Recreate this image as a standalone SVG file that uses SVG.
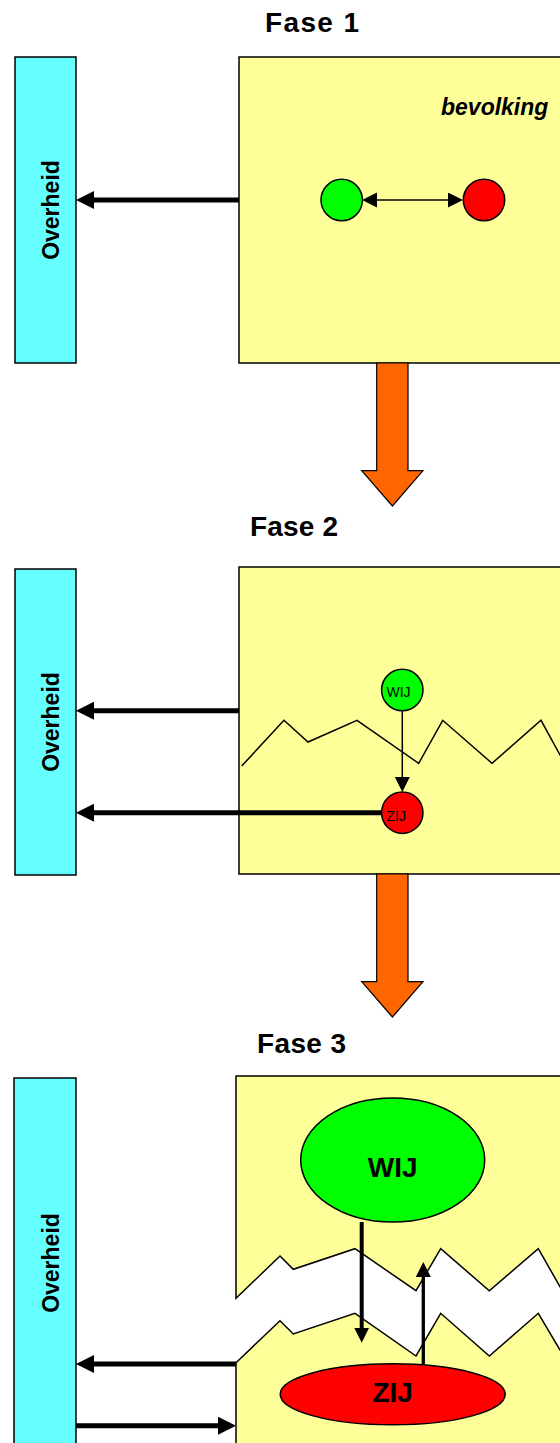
<svg xmlns="http://www.w3.org/2000/svg" width="560" height="1443" viewBox="0 0 560 1443">
  <style>
    .title { font-family: "Liberation Sans", Arial, sans-serif; font-weight: bold; font-size: 28px; fill: #000; }
    .gov { fill: #66FFFF; stroke: #000; stroke-width: 1.5; }
    .govtxt { font-family: "Liberation Sans", Arial, sans-serif; font-weight: bold; font-size: 23px; fill: #000; }
    .pop { fill: #FFFF99; stroke: #000; stroke-width: 1.5; }
    .green { fill: #00FF00; stroke: #000; stroke-width: 1.5; }
    .red { fill: #FF0000; stroke: #000; stroke-width: 1.5; }
    .flow { fill: #FF6600; stroke: #000; stroke-width: 1.2; }
    .thick { stroke: #000; stroke-width: 5; fill: none; marker-end: url(#headLg); }
    .thin { stroke: #000; stroke-width: 1.5; fill: none; }
    .zig { stroke: #000; stroke-width: 1.5; fill: none; stroke-linejoin: miter; }
    .lbl { font-family: "Liberation Sans", Arial, sans-serif; font-size: 14px; fill: #000; }
    .big { font-family: "Liberation Sans", Arial, sans-serif; font-weight: bold; font-size: 28px; fill: #000; }
  </style>
  <defs>
    <marker id="headLg" markerUnits="userSpaceOnUse" markerWidth="18" markerHeight="18" refX="6" refY="9" orient="auto">
      <path d="M0,0 L18,9 L0,18 z" fill="#000"/>
    </marker>
    <marker id="headSm" markerUnits="userSpaceOnUse" markerWidth="16" markerHeight="16" refX="5" refY="7.5" orient="auto-start-reverse">
      <path d="M0,0 L15,7.5 L0,15 z" fill="#000"/>
    </marker>
  </defs>

  <!-- phase titles -->
  <text class="title" x="265" y="32" textLength="94" lengthAdjust="spacing">Fase 1</text>
  <text class="title" x="250" y="536" textLength="88" lengthAdjust="spacing">Fase 2</text>
  <text class="title" x="257" y="1053" textLength="89" lengthAdjust="spacing">Fase 3</text>

  <!-- ===== Fase 1 ===== -->
  <g id="overheid-1">
    <rect class="gov" x="15" y="57" width="61" height="306"/>
    <text class="govtxt" transform="translate(59,210) rotate(-90)" text-anchor="middle">Overheid</text>
  </g>
  <g id="bevolking-1">
    <rect class="pop" x="239" y="57" width="340" height="306"/>
    <text x="441" y="115" font-family="Liberation Sans, Arial, sans-serif" font-weight="bold" font-style="italic" font-size="23">bevolking</text>
  </g>
  <g id="groep-a-1"><circle class="green" cx="341.7" cy="200" r="20.7"/></g>
  <g id="groep-b-1"><circle class="red" cx="484" cy="200" r="20.7"/></g>
  <g id="flow-1"><polygon class="flow" points="376.7,363 408,363 408,470.7 423,470.7 392.4,506 361.7,470.7 376.7,470.7"/></g>

  <!-- ===== Fase 2 ===== -->
  <g id="overheid-2">
    <rect class="gov" x="15" y="569" width="61" height="306"/>
    <text class="govtxt" transform="translate(59,722) rotate(-90)" text-anchor="middle">Overheid</text>
  </g>
  <g id="bevolking-2">
    <rect class="pop" x="239" y="567" width="340" height="307"/>
    <polyline class="zig" points="241.7,766 284,720.3 308,742 357,720.3 418.7,763.3 442.7,720.3 492,763.3 541,720.3 560,755 572,777"/>
  </g>
  <g id="wij-2">
    <circle class="green" cx="402.3" cy="690" r="20.7"/>
    <text class="lbl" x="386.5" y="697">WIJ</text>
  </g>
  <g id="zij-2">
    <circle class="red" cx="402.3" cy="812.7" r="20.7"/>
    <text class="lbl" x="386.5" y="821">ZIJ</text>
  </g>
  <g id="flow-2"><polygon class="flow" points="376.7,874 408,874 408,981.7 423,981.7 392.4,1017 361.7,981.7 376.7,981.7"/></g>

  <!-- ===== Fase 3 ===== -->
  <g id="overheid-3">
    <rect class="gov" x="14" y="1078" width="62" height="380"/>
    <text class="govtxt" transform="translate(59,1263) rotate(-90)" text-anchor="middle">Overheid</text>
  </g>
  <g id="bevolking-3">
    <!-- upper torn piece -->
    <path class="pop" d="M236,1298.3 L236,1076 L600,1076 L600,1325 L560,1286.7 L538.3,1248.7 L489.3,1290.7 L440.7,1248.7 L416,1290.7 L355,1248.7 L293.3,1269.3 L280,1256 Z"/>
    <!-- lower torn piece -->
    <path class="pop" d="M236,1460 L236,1362.7 L280,1320.7 L293.3,1334 L355,1313.3 L416,1356 L440.7,1313.3 L489.3,1356 L538.3,1313.3 L560,1350 L600,1390 L600,1460 Z"/>
  </g>
  <g id="wij-3">
    <ellipse class="green" cx="392.7" cy="1160" rx="92" ry="62"/>
    <text class="big" x="392.7" y="1177" text-anchor="middle">WIJ</text>
  </g>
  <g id="zij-3">
    <ellipse class="red" cx="392.7" cy="1394.3" rx="112.5" ry="30.5"/>
    <text class="big" x="392.7" y="1402" text-anchor="middle">ZIJ</text>
  </g>

  <!-- ===== connectors ===== -->
  <g id="connectors">
    <!-- Fase 1 -->
    <line class="thick" x1="239" y1="200" x2="88" y2="200"/>
    <line class="thin" x1="372" y1="200" x2="453" y2="200" marker-start="url(#headSm)" marker-end="url(#headSm)"/>
    <!-- Fase 2 -->
    <line class="thick" x1="239" y1="710.7" x2="88" y2="710.7"/>
    <line class="thick" x1="382" y1="812.7" x2="88" y2="812.7" stroke-width="6"/>
    <line class="thin" x1="402.3" y1="711" x2="402.3" y2="782" marker-end="url(#headSm)"/>
    <!-- Fase 3 -->
    <line class="thick" x1="236" y1="1364" x2="88" y2="1364"/>
    <line class="thick" x1="76" y1="1425.7" x2="224" y2="1425.7"/>
    <line x1="361.7" y1="1222" x2="361.7" y2="1332.7" stroke="#000" stroke-width="4" marker-end="url(#headSm)"/>
    <line x1="423.3" y1="1364" x2="423.3" y2="1272" stroke="#000" stroke-width="3.3" marker-end="url(#headSm)"/>
  </g>
</svg>
